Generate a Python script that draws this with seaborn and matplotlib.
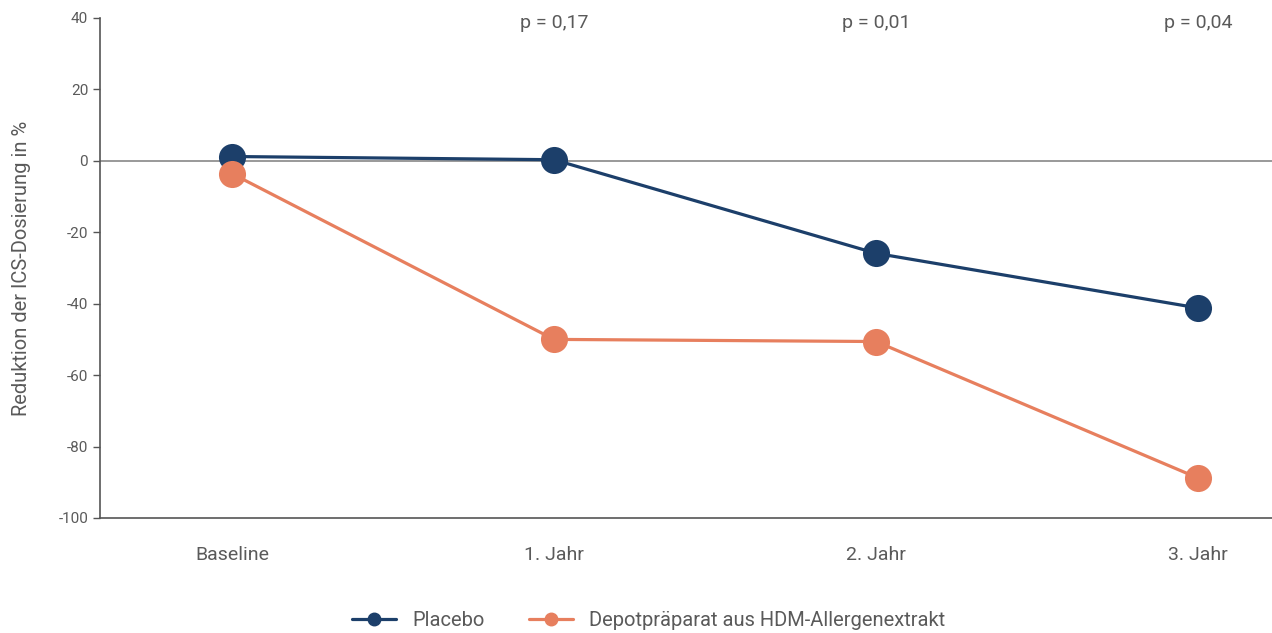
import matplotlib
matplotlib.use("Agg")
import matplotlib.pyplot as plt
from matplotlib.lines import Line2D
import pandas as pd
import seaborn as sns

sns.set_theme(style="white")
plt.rcParams["font.family"] = ["Roboto", "DejaVu Sans"]
plt.rcParams["axes.unicode_minus"] = False

zeitpunkte = ["Baseline", "1. Jahr", "2. Jahr", "3. Jahr"]
placebo = [1.2, 0.3, -25.9, -41.2]
depot = [-3.6, -50.0, -50.6, -88.8]
p_werte = ["", "p = 0,17", "p = 0,01", "p = 0,04"]
gruppen = ["Placebo", "Depotpräparat aus HDM-Allergenextrakt"]
farben = ["#1c3f6a", "#e77f5e"]
text_col = "#5a5a5a"

df = pd.DataFrame({
    "zeit": zeitpunkte * 2,
    "wert": placebo + depot,
    "gruppe": [gruppen[0]] * 4 + [gruppen[1]] * 4,
})

fig = plt.figure(figsize=(12.72, 6.33), dpi=100)
ax = fig.add_axes([0.0786, 0.1817, 0.9214, 0.79])

ax.axhline(0, color="#888888", lw=1.2, zorder=1)
sns.lineplot(data=df, x="zeit", y="wert", hue="gruppe", palette=farben,
             marker="o", markersize=19.5, markeredgewidth=0, lw=2.3,
             sort=False, legend=False, ax=ax, zorder=3)

ax.set_ylim(-100, 40)
ax.set_yticks(range(-100, 41, 20))
ax.set_xlim(-0.41, 3.23)
ax.set_xlabel("")
ax.set_ylabel("Reduktion der ICS-Dosierung in %", fontsize=14.5, color=text_col, labelpad=20)
ax.tick_params(axis="y", labelsize=11, colors=text_col, length=5, width=1, color="#555555", left=True)
ax.tick_params(axis="x", labelsize=14, colors=text_col, length=0, pad=20)

sns.despine(ax=ax)
for s in ["left", "bottom"]:
    ax.spines[s].set_color("#555555")
    ax.spines[s].set_linewidth(1.2)

for i, p in enumerate(p_werte):
    if p:
        ax.text(i, 38.5, p, ha="center", va="center", fontsize=14, color=text_col)

handles = [Line2D([0], [0], color=c, lw=2.3, marker="o", markersize=9) for c in farben]
fig.legend(handles, gruppen, loc="center", bbox_to_anchor=(0.51, 0.02), ncol=2, frameon=False,
           labelcolor=text_col, handlelength=2.2, columnspacing=2.2, prop={"size": 14.5})

fig.savefig("out.png", dpi=100)
